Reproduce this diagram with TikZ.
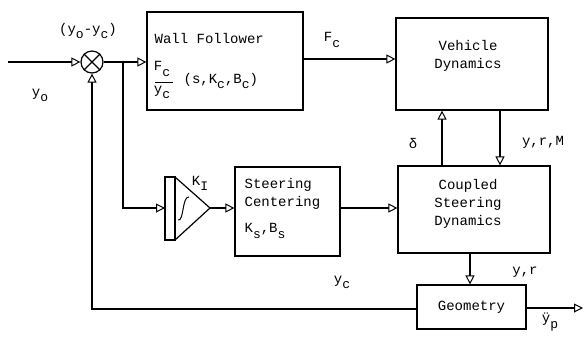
\documentclass[tikz,border=0pt]{standalone}
\usepackage{fontspec}
\setmainfont{Liberation Mono}
\usetikzlibrary{arrows.meta}
\newcommand\dn[1]{\raisebox{-0.7ex}{\fontsize{13}{13}\selectfont #1}}
\begin{document}
\begin{tikzpicture}[x=1pt,y=-1pt, line width=1.2pt,
  blk/.style={draw, rectangle, inner sep=0pt},
  arr/.style={-{Triangle[open,length=9pt,width=9pt,line width=1pt,fill=white]}},
  every node/.style={font=\fontsize{14}{18}\selectfont, inner sep=0pt}]
\useasboundingbox (0,0) rectangle (585,341);
% blocks
\node[blk, circle, minimum size=22pt] (sum) at (92,62) {};
\draw[line width=1.2pt] (sum.north west) -- (sum.south east) (sum.north east) -- (sum.south west);
\node[blk, minimum width=156pt, minimum height=98pt] (wf) at (225,61) {};
\node[blk, minimum width=152pt, minimum height=92pt] (vd) at (472,64) {};
\node[blk, minimum width=152pt, minimum height=87pt] (cs) at (474,209.5) {};
\node[blk, minimum width=105pt, minimum height=89pt] (sc) at (287.5,211.5) {};
\node[blk, minimum width=109pt, minimum height=44pt] (geo) at (471.5,307) {Geometry};
% integrator
\draw (165,177) rectangle (175,240);
\draw (175,177) -- (210,208) -- (175,240);
\draw[line width=1pt] (178,220) .. controls (184,222) and (182,196) .. (189,197);
\coordinate (intin) at (165,208);
\coordinate (intout) at (210,208);
% helper coordinates
\coordinate (in) at (8,62);
\coordinate (br) at (123,62);
\coordinate (fcy) at (0,59);
\coordinate (dx) at (442,0);
\coordinate (mx) at (500,0);
\coordinate (gx) at (470,0);
\coordinate (out) at (583,308);
\coordinate (fby) at (0,309);
% connectors
\draw[arr] (in) -- (sum.west);
\draw[arr] (sum.east) -- (sum.east -| wf.west);
\draw[arr] (br) |- (intin);
\draw[arr] (wf.east |- fcy) -- (vd.west |- fcy);
\draw[arr] (cs.north -| dx) -- (vd.south -| dx);
\draw[arr] (vd.south -| mx) -- (cs.north -| mx);
\draw[arr] (intout) -- (sc.west |- intout);
\draw[arr] (sc.east |- intout) -- (cs.west |- intout);
\draw[arr] (cs.south -| gx) -- (geo.north -| gx);
\draw[arr] (geo.east |- out) -- (out);
\draw[arr] (geo.west |- fby) -| (sum.south);
% labels
\node at (40,95) {y\dn{o}};
\node at (88,31) {(y\dn{o}-y\dn{c})};
\node[anchor=west] at (154,38) {Wall Follower};
\node (fnum) at (162,69) {F\dn{c}};
\draw[line width=1pt] (155,82) -- (173,82);
\node (fden) at (162,92) {y\dn{c}};
\node[anchor=west] at (183,81) {(s,K\dn{c},B\dn{c})};
\node at (332,40) {F\dn{c}};
\node[align=center] at (468,56) {Vehicle\\Dynamics};
\node at (413,143) {δ};
\node at (543,142) {y,r,M};
\node at (200,183) {K\dn{I}};
\node[anchor=west, align=left] at (244,194) {Steering\\Centering};
\node[anchor=west] at (244,231) {K\dn{s},B\dn{s}};
\node[align=center] at (468,204) {Coupled\\Steering\\Dynamics};
\node at (525,272) {y,r};
\node at (342,282) {y\dn{c}};
\node at (550,322) {\"y\dn{p}};
\end{tikzpicture}
\end{document}
